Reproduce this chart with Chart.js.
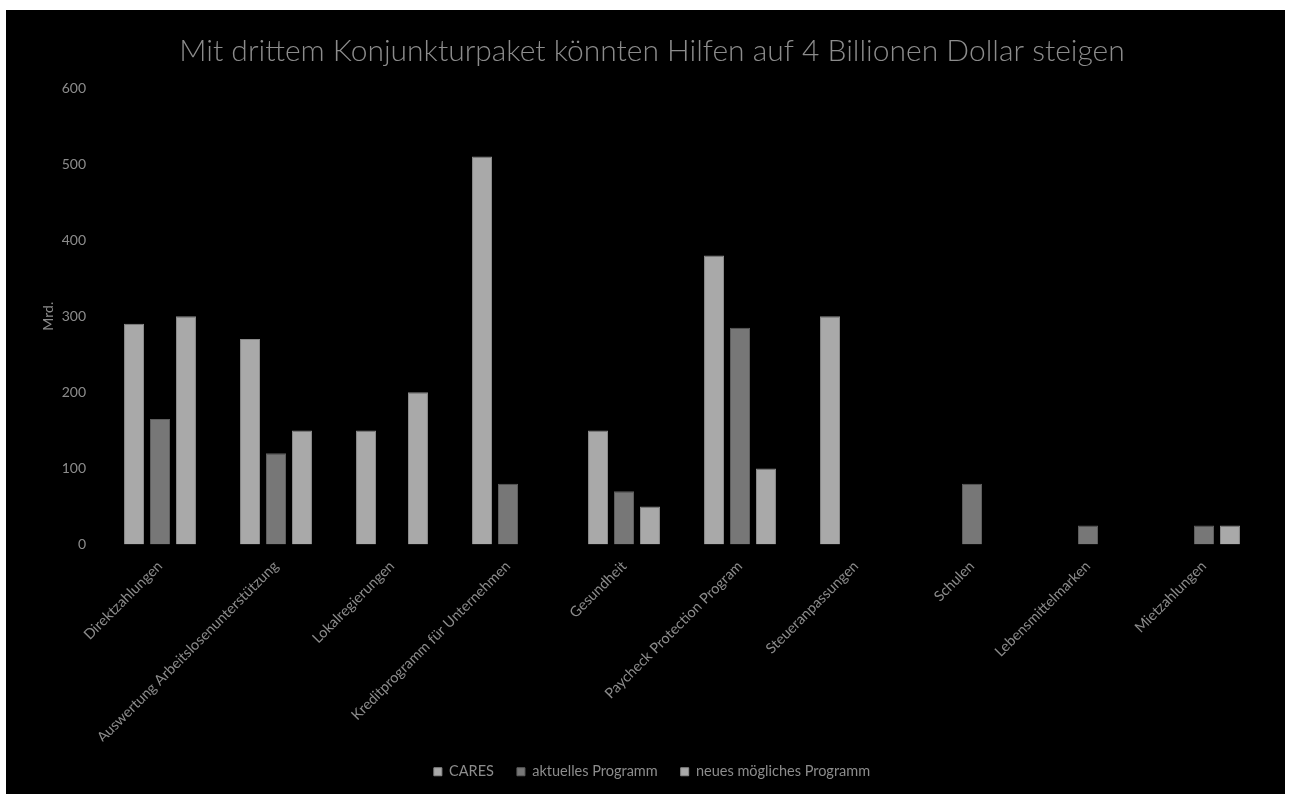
<!DOCTYPE html>
<html>
<head>
<meta charset="utf-8">
<script src="https://cdn.jsdelivr.net/npm/chart.js@4/dist/chart.umd.min.js"></script>
<style>
  html, body { margin: 0; padding: 0; background: #ffffff; }
  #wrap { position: absolute; left: 6px; top: 10px; width: 1279px; height: 784px; background: #000000; }
  canvas { display: block; }
</style>
</head>
<body>
<div id="wrap"><canvas id="c"></canvas></div>
<script>
const categories = [
  "Direktzahlungen",
  "Auswertung Arbeitslosenunterstützung",
  "Lokalregierungen",
  "Kreditprogramm für Unternehmen",
  "Gesundheit",
  "Paycheck Protection Program",
  "Steueranpassungen",
  "Schulen",
  "Lebensmittelmarken",
  "Mietzahlungen"
];
const caresValues    = [290, 270, 150, 510, 150, 380, 300, null, null, null];
const aktuellValues  = [165, 120, null, 80, 70, 285, null, 80, 25, 25];
const neuesValues    = [300, 150, 200, null, 50, 100, null, null, null, 25];
const seriesNames = ["CARES", "aktuelles Programm", "neues mögliches Programm"];
const yTicks = [0, 100, 200, 300, 400, 500, 600];
const titleText = "Mit drittem Konjunkturpaket könnten Hilfen auf 4 Billionen Dollar steigen";
const yAxisTitle = "Mrd.";

const textColor = "#8c8c8c";
const lightBar = "#a9a9a9";
const darkBar = "#777777";

new Chart(document.getElementById("c"), {
  type: "bar",
  data: {
    labels: categories,
    datasets: [
      { label: seriesNames[0], data: caresValues, backgroundColor: lightBar, borderColor: "#8a8a8a", borderWidth: 1 },
      { label: seriesNames[1], data: aktuellValues, backgroundColor: darkBar, borderColor: "#5e5e5e", borderWidth: 1 },
      { label: seriesNames[2], data: neuesValues, backgroundColor: lightBar, borderColor: "#8a8a8a", borderWidth: 1 }
    ]
  },
  options: {
    responsive: true,
    maintainAspectRatio: false,
    animation: false,
    categoryPercentage: 0.672,
    barPercentage: 0.77,
    layout: { padding: { left: 36, right: 23, top: 0, bottom: 5 } },
    plugins: {
      title: {
        display: true,
        text: titleText,
        color: textColor,
        font: { family: "Lato", size: 30, weight: "300" },
        padding: { top: 23, bottom: 19 }
      },
      legend: {
        display: true,
        position: "bottom",
        labels: {
          color: textColor,
          font: { family: "Lato", size: 14.5 },
          boxWidth: 8,
          boxHeight: 8,
          padding: 23
        }
      },
      tooltip: { enabled: false }
    },
    scales: {
      x: {
        grid: { display: false, drawTicks: false },
        border: { display: false },
        ticks: {
          color: textColor,
          font: { family: "Lato", size: 14.5 },
          minRotation: 45,
          maxRotation: 45,
          autoSkip: false,
          padding: 13
        },
        afterFit: (s) => { s.height = 197; }
      },
      y: {
        min: 0,
        max: 600,
        grid: { display: false, drawTicks: false },
        border: { display: false },
        afterBuildTicks: (s) => { s.ticks = yTicks.map(v => ({ value: v })); },
        ticks: {
          color: textColor,
          font: { family: "Lato", size: 14 },
          padding: 16
        },
        title: {
          display: true,
          text: yAxisTitle,
          color: textColor,
          font: { family: "Lato", size: 14 },
          padding: { top: -2, bottom: 0 }
        },
        afterFit: (s) => { s.width = 60; }
      }
    }
  }
});
</script>
</body>
</html>
